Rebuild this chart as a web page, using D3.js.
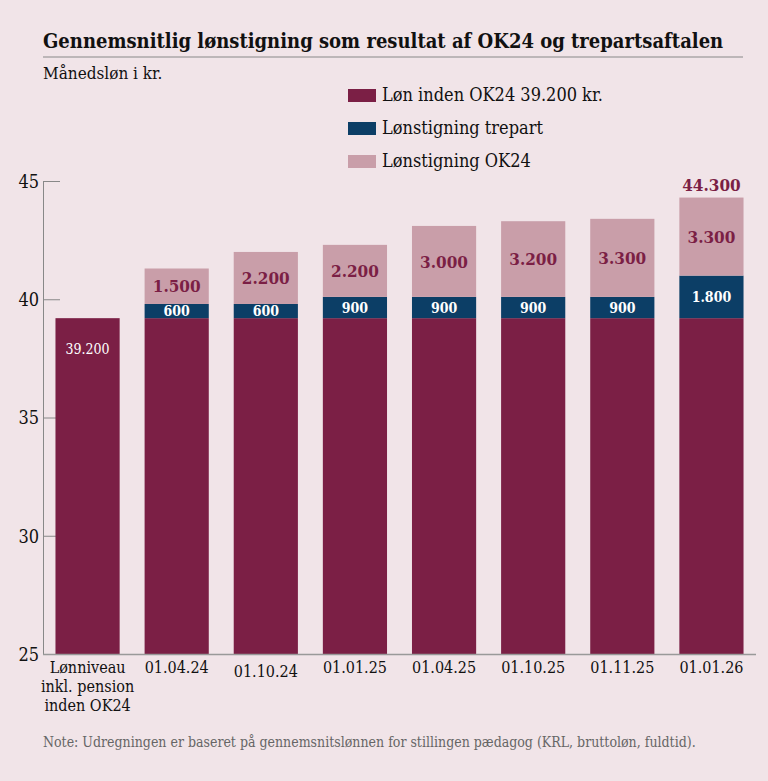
<!DOCTYPE html>
<html><head><meta charset="utf-8">
<script src="https://cdn.jsdelivr.net/npm/d3@7"></script>
<style>
html,body{margin:0;padding:0;background:#f1e4e8;}
text{font-family:"DejaVu Serif Condensed","DejaVu Serif",serif;}
</style></head>
<body><svg id="c" width="768" height="781"></svg>
<script>
const categories = ["Lønniveau\ninkl. pension\ninden OK24","01.04.24","01.10.24","01.01.25","01.04.25","01.10.25","01.11.25","01.01.26"];
const base = [39.2,39.2,39.2,39.2,39.2,39.2,39.2,39.2];
const trepart = [0,0.6,0.6,0.9,0.9,0.9,0.9,1.8];
const ok24 = [0,1.5,2.2,2.2,3.0,3.2,3.3,3.3];
const yTicks = [25,30,35,40,45];
const seriesNames = ["Løn inden OK24 39.200 kr.","Lønstigning trepart","Lønstigning OK24"];
const colors = ["#7b1f45","#0c3e66","#c99ea9"];
const fmt = v => d3.format(",.0f")(v*1000).replace(/,/g,".");

const svg = d3.select("#c");
svg.append("rect").attr("width",768).attr("height",781).attr("fill","#f1e4e8");

svg.append("text").attr("x",43).attr("y",48).attr("font-size",20).attr("font-weight","bold").attr("fill","#111")
  .text("Gennemsnitlig lønstigning som resultat af OK24 og trepartsaftalen");
svg.append("line").attr("x1",43).attr("x2",743).attr("y1",57).attr("y2",57).attr("stroke","#888").attr("stroke-width",1);
svg.append("text").attr("x",43).attr("y",79).attr("font-size",17).attr("fill","#111").text("Månedsløn i kr.");

// legend
seriesNames.forEach((n,i)=>{
  const y = 95 + i*33;
  svg.append("rect").attr("x",348).attr("y",y-6).attr("width",28).attr("height",13).attr("fill",colors[i]);
  svg.append("text").attr("x",382).attr("y",y+6).attr("font-size",18).attr("fill","#111").text(n);
});

const x = d3.scaleBand().domain(categories).range([43,756]).paddingInner(0.28).paddingOuter(0.14);
const y = d3.scaleLinear().domain([25,45]).range([654,181]);

// axes
const ya = svg.append("g").attr("transform","translate(43,0)")
  .call(d3.axisRight(y).tickValues(yTicks).tickSize(17).tickFormat(d=>d));
ya.select(".domain").attr("stroke","#888");
ya.selectAll(".tick line").attr("stroke","#888");
ya.selectAll(".tick text").attr("x",-4).attr("text-anchor","end").attr("font-size",18).attr("fill","#111")
  .attr("font-family","DejaVu Serif Condensed, DejaVu Serif, serif").attr("dy","0.35em");

const data = categories.map((c,i)=>({c, b:base[i], t:trepart[i], o:ok24[i]}));
const g = svg.append("g");
data.forEach(d=>{
  const bx = x(d.c), bw = x.bandwidth();
  g.append("rect").attr("x",bx).attr("width",bw).attr("y",y(d.b)).attr("height",y(25)-y(d.b)).attr("fill",colors[0]);
  if(d.t>0) g.append("rect").attr("x",bx).attr("width",bw).attr("y",y(d.b+d.t)).attr("height",y(d.b)-y(d.b+d.t)).attr("fill",colors[1]);
  if(d.o>0) g.append("rect").attr("x",bx).attr("width",bw).attr("y",y(d.b+d.t+d.o)).attr("height",y(d.b+d.t)-y(d.b+d.t+d.o)).attr("fill",colors[2]);
  const cx = bx + bw/2;
  if(d.t===0){
    g.append("text").attr("x",cx).attr("y",y(d.b)+36).attr("text-anchor","middle").attr("font-size",14).attr("fill","#fff").text(fmt(d.b));
  } else {
    g.append("text").attr("x",cx).attr("y",(y(d.b)+y(d.b+d.t))/2).attr("dy","0.36em").attr("text-anchor","middle")
      .attr("font-size",14).attr("font-weight","bold").attr("fill","#fff").text(fmt(d.t));
    g.append("text").attr("x",cx).attr("y",(y(d.b+d.t)+y(d.b+d.t+d.o))/2).attr("dy","0.36em").attr("text-anchor","middle")
      .attr("font-size",17).attr("font-weight","bold").attr("fill","#7b1f45").text(fmt(d.o));
  }
});
// total label on last bar
const last = data[data.length-1];
svg.append("text").attr("x",x(last.c)+x.bandwidth()/2).attr("y",y(last.b+last.t+last.o)-7).attr("text-anchor","middle")
  .attr("font-size",17).attr("font-weight","bold").attr("fill","#7b1f45").text(fmt(last.b+last.t+last.o));

// baseline
svg.append("line").attr("x1",43).attr("x2",756).attr("y1",654.5).attr("y2",654.5).attr("stroke","#999").attr("stroke-width",1.5);

// x labels
categories.forEach((c,i)=>{
  const t = svg.append("text").attr("x",x(c)+x.bandwidth()/2).attr("y",673 + (i===2?4:0)).attr("text-anchor","middle").attr("font-size",16).attr("fill","#111");
  c.split("\n").forEach((l,j)=>t.append("tspan").attr("x",x(c)+x.bandwidth()/2).attr("dy",j?19:0).text(l));
});

svg.append("text").attr("x",43).attr("y",747).attr("font-size",14).attr("fill","#666")
  .text("Note: Udregningen er baseret på gennemsnitslønnen for stillingen pædagog (KRL, bruttoløn, fuldtid).");
</script></body></html>
